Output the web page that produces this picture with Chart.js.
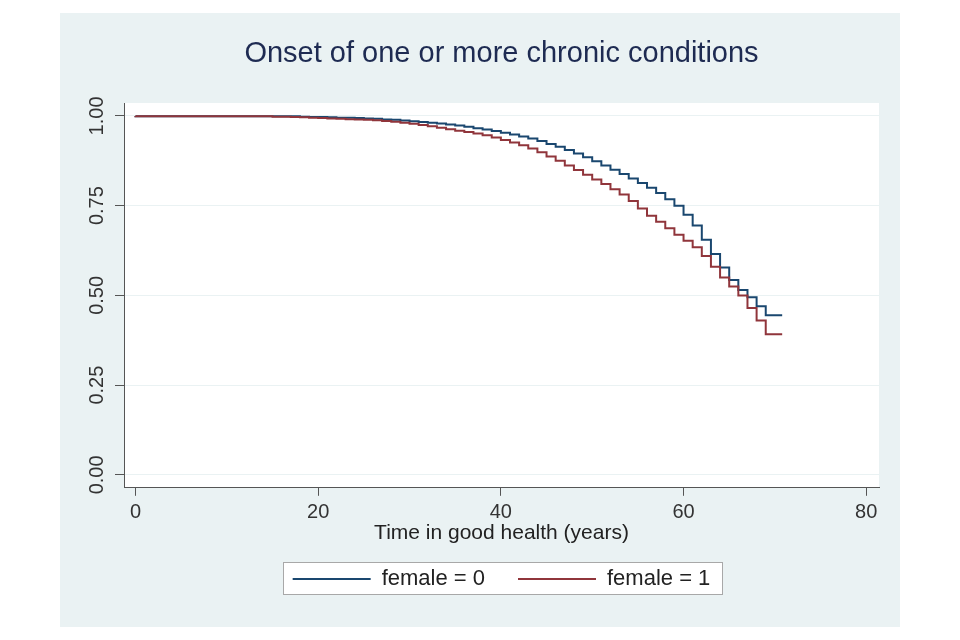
<!DOCTYPE html>
<html>
<head>
<meta charset="utf-8">
<title>Onset of one or more chronic conditions</title>
<script src="https://cdn.jsdelivr.net/npm/chart.js@4.4.1/dist/chart.umd.min.js"></script>
<style>
  html, body { margin: 0; padding: 0; background: #ffffff; }
  #panel { position: absolute; left: 60px; top: 13px; width: 840px; height: 614px; background: #eaf2f3; }
</style>
</head>
<body>
<div id="panel"><canvas id="km-chart"></canvas></div>
<script>
// Kaplan-Meier estimates (step drops at each year)
const xTicks = [0, 20, 40, 60, 80];
const yTicks = [0, 0.25, 0.5, 0.75, 1];
const seriesLabels = ['female = 0', 'female = 1'];

const timeFemale0 = [0, 18, 19, 20, 21, 22, 23, 24, 25, 26, 27, 28, 29, 30, 31, 32, 33, 34, 35,
  36, 37, 38, 39, 40, 41, 42, 43, 44, 45, 46, 47, 48, 49, 50, 51, 52, 53, 54, 55,
  56, 57, 58, 59, 60, 61, 62, 63, 64, 65, 66, 67, 68, 69, 70, 70.8];
const survFemale0 = [1.000, 0.999, 0.998, 0.997, 0.997, 0.996, 0.995, 0.995, 0.994, 0.993, 0.992, 0.990, 0.989, 0.987, 0.985, 0.983, 0.981, 0.979, 0.976,
  0.973, 0.970, 0.966, 0.962, 0.958, 0.953, 0.948, 0.943, 0.937, 0.930, 0.922, 0.914, 0.905, 0.895, 0.885, 0.874, 0.862, 0.850, 0.838, 0.826,
  0.813, 0.800, 0.785, 0.768, 0.750, 0.725, 0.695, 0.655, 0.615, 0.578, 0.543, 0.515, 0.495, 0.470, 0.445, 0.445];

const timeFemale1 = [0, 15, 17, 18, 19, 20, 21, 22, 23, 24, 25, 26, 27, 28, 29, 30, 31, 32, 33, 34, 35,
  36, 37, 38, 39, 40, 41, 42, 43, 44, 45, 46, 47, 48, 49, 50, 51, 52, 53, 54, 55,
  56, 57, 58, 59, 60, 61, 62, 63, 64, 65, 66, 67, 68, 69, 70, 70.8];
const survFemale1 = [1.000, 0.999, 0.998, 0.997, 0.996, 0.995, 0.994, 0.993, 0.992, 0.991, 0.990, 0.989, 0.988, 0.986, 0.984, 0.981, 0.978, 0.975, 0.971, 0.967, 0.963,
  0.959, 0.955, 0.951, 0.946, 0.940, 0.933, 0.926, 0.918, 0.909, 0.899, 0.887, 0.875, 0.862, 0.849, 0.836, 0.823, 0.810, 0.796, 0.781, 0.763,
  0.742, 0.722, 0.705, 0.687, 0.669, 0.652, 0.634, 0.610, 0.580, 0.550, 0.525, 0.500, 0.465, 0.430, 0.392, 0.392];

const navy = '#1a476f';
const maroon = '#90353b';
const axisColor = '#555555';

function toPoints(times, values) {
    return times.map((t, i) => ({ x: t, y: values[i] }));
}

// white plot region and the framed legend box
const plotBackground = {
    id: 'plotBackground',
    beforeDraw(chart) {
        const ctx = chart.ctx;
        const a = chart.chartArea;
        ctx.save();
        ctx.fillStyle = '#ffffff';
        ctx.fillRect(a.left, a.top, a.right - a.left, a.bottom - a.top);
        const boxes = chart.legend && chart.legend.legendHitBoxes;
        if (boxes && boxes.length) {
            const first = boxes[0];
            const last = boxes[boxes.length - 1];
            const x0 = Math.round(first.left - 10);
            const x1 = Math.round(last.left + last.width + 12);
            const yc = Math.round(first.top + first.height / 2) - 1;
            ctx.fillRect(x0, yc - 16, x1 - x0, 32);
            ctx.strokeStyle = '#a8a8a8';
            ctx.lineWidth = 1;
            ctx.strokeRect(x0 + 0.5, yc - 16 + 0.5, x1 - x0, 32);
        }
        ctx.restore();
    }
};

Chart.defaults.font.family = '"Liberation Sans", Arial, sans-serif';

document.addEventListener('DOMContentLoaded', function() {
    const ctx = document.getElementById('km-chart').getContext('2d');
    new Chart(ctx, {
        type: 'line',
        data: {
            datasets: [
                {
                    label: seriesLabels[0],
                    data: toPoints(timeFemale0, survFemale0),
                    borderColor: navy,
                    backgroundColor: navy,
                    borderWidth: 2,
                    stepped: 'after',
                    pointRadius: 0,
                    fill: false,
                    order: 1
                },
                {
                    label: seriesLabels[1],
                    data: toPoints(timeFemale1, survFemale1),
                    borderColor: maroon,
                    backgroundColor: maroon,
                    borderWidth: 2,
                    stepped: 'after',
                    pointRadius: 0,
                    fill: false,
                    order: 0
                }
            ]
        },
        options: {
            responsive: true,
            maintainAspectRatio: false,
            animation: false,
            layout: {
                padding: { left: 0, right: 21, top: 0, bottom: 27 }
            },
            plugins: {
                title: {
                    display: true,
                    text: 'Onset of one or more chronic conditions',
                    fullSize: false,
                    color: '#1e2b52',
                    font: { size: 29, weight: 'normal' },
                    padding: { top: 24, bottom: 31.2 }
                },
                legend: {
                    position: 'bottom',
                    fullSize: false,
                    labels: {
                        usePointStyle: true,
                        pointStyle: 'line',
                        pointStyleWidth: 78,
                        padding: 33,
                        color: '#222222',
                        font: { size: 22 },
                        sort: (a, b) => a.datasetIndex - b.datasetIndex
                    }
                },
                tooltip: { enabled: false }
            },
            scales: {
                x: {
                    type: 'linear',
                    min: -1.26,
                    max: 81.4,
                    bounds: 'data',
                    afterBuildTicks: function(scale) {
                        scale.ticks = xTicks.map(v => ({ value: v }));
                    },
                    ticks: {
                        minRotation: 0,
                        maxRotation: 0,
                        padding: 7,
                        color: '#333333',
                        font: { size: 20, lineHeight: 1 }
                    },
                    grid: {
                        drawOnChartArea: false,
                        tickColor: axisColor,
                        tickLength: 8
                    },
                    border: { color: axisColor, width: 1 },
                    title: {
                        display: true,
                        text: 'Time in good health (years)',
                        color: '#222222',
                        font: { size: 21, lineHeight: 0.2 },
                        padding: { top: 1, bottom: 0 }
                    }
                },
                y: {
                    type: 'linear',
                    min: -0.036,
                    max: 1.036,
                    bounds: 'data',
                    afterBuildTicks: function(scale) {
                        scale.ticks = yTicks.map(v => ({ value: v }));
                    },
                    afterFit: function(scale) {
                        scale.width = 64;
                    },
                    ticks: {
                        minRotation: 90,
                        maxRotation: 90,
                        crossAlign: 'center',
                        padding: -1.5,
                        color: '#333333',
                        font: { size: 20 },
                        callback: v => v.toFixed(2)
                    },
                    grid: {
                        color: '#eaf2f3',
                        tickColor: axisColor,
                        tickLength: 9,
                        lineWidth: 1
                    },
                    border: { color: axisColor, width: 1 }
                }
            }
        },
        plugins: [plotBackground]
    });
});
</script>
</body>
</html>
